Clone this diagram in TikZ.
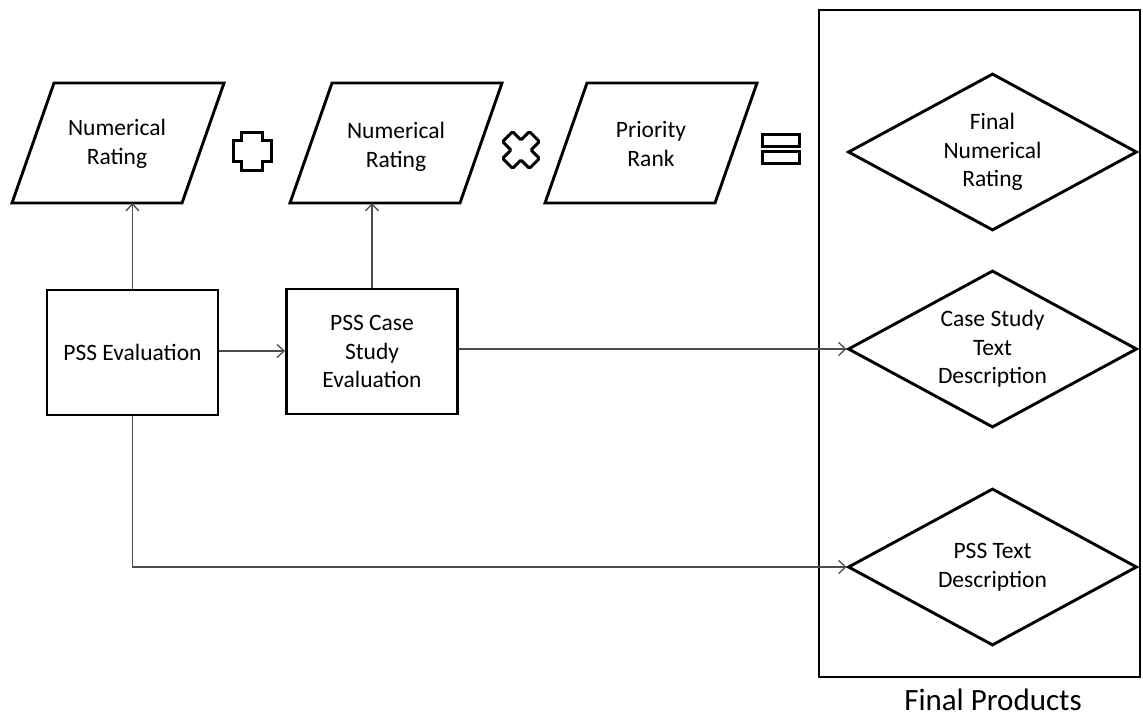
\documentclass[tikz,border=0pt]{standalone}
\usepackage{fontspec}
\setmainfont{Carlito}
\usetikzlibrary{shapes.geometric,arrows.meta}
\begin{document}
\begin{tikzpicture}[x=1pt,y=-1pt,
  shapeline/.style={line width=2.9pt,line join=miter},
  txt/.style={align=center,font=\fontsize{23.5}{28.7}\selectfont,inner sep=0pt},
  procbox/.style={shapeline,draw,rectangle,minimum width=171pt,minimum height=125pt,inner sep=0pt,align=center,font=\fontsize{23.5}{28.7}\selectfont},
  dia/.style={shapeline,draw,diamond,aspect=1.84,minimum width=289pt,minimum height=157pt,inner sep=0pt,align=center,font=\fontsize{23.5}{28.7}\selectfont},
  arr/.style={line width=1.3pt,draw=black!70,-{Straight Barb[length=7pt,width=13pt,line width=1.3pt]}},
  opsym/.style={line width=3pt,line join=miter}]
\useasboundingbox (0,0) rectangle (1143,717);
% container
\draw[shapeline] (819,10) rectangle (1140,677);
\node[font=\fontsize{31}{36}\selectfont,inner sep=0pt] (fp) at (993,700) {Final Products};
% parallelograms
\draw[shapeline] (54,83) -- (224,83) -- (182,203) -- (12,203) -- cycle;
\node[txt] (p1) at (117,144) {Numerical\\Rating};
\coordinate (p1b) at (118,203);
\draw[shapeline] (332,83) -- (502,83) -- (460,203) -- (290,203) -- cycle;
\node[txt] (p2) at (396,147) {Numerical\\Rating};
\coordinate (p2b) at (375,203);
\draw[shapeline] (587,83) -- (757,83) -- (715,203) -- (545,203) -- cycle;
\node[txt] (p3) at (651,144) {Priority\\Rank};
% operators
\draw[opsym] (252,151) ++(-10.5,-19) -- ++(21,0) -- ++(0,8.5) -- ++(8.5,0) -- ++(0,21) -- ++(-8.5,0) -- ++(0,8.5) -- ++(-21,0) -- ++(0,-8.5) -- ++(-8.5,0) -- ++(0,-21) -- ++(8.5,0) -- cycle;
\begin{scope}[shift={(521,150)},rotate=45]
\draw[opsym,rounded corners=1.5pt] (-7,-19) -- (7,-19) -- (7,-7) -- (19,-7) -- (19,7) -- (7,7) -- (7,19) -- (-7,19) -- (-7,7) -- (-19,7) -- (-19,-7) -- (-7,-7) -- cycle;
\end{scope}
\draw[opsym] (762,134) rectangle (799,146);
\draw[opsym] (762,151) rectangle (799,163);
% process boxes
\node[procbox] (b1) at (132.5,352.5) {PSS Evaluation};
\node[procbox] (b2) at (372,351.5) {PSS Case\\Study\\Evaluation};
% diamonds
\node[dia] (d1) at (992.5,152) {Final\\Numerical\\Rating};
\node[dia] (d2) at (992.5,349) {Case Study\\Text\\Description};
\node[dia] (d3) at (992.5,567) {PSS Text\\Description};
% connectors
\draw[arr] (b1.north) -- (b1.north |- p1b);
\draw[arr] (b2.north) -- (b2.north |- p2b);
\draw[arr] (b1.east |- 0,351) -- (b2.west |- 0,351);
\draw[arr] (b2.east |- d2.west) -- (d2.west);
\draw[arr] (b1.south) -- (b1.south |- d3.west) -- (d3.west);
\end{tikzpicture}
\end{document}
